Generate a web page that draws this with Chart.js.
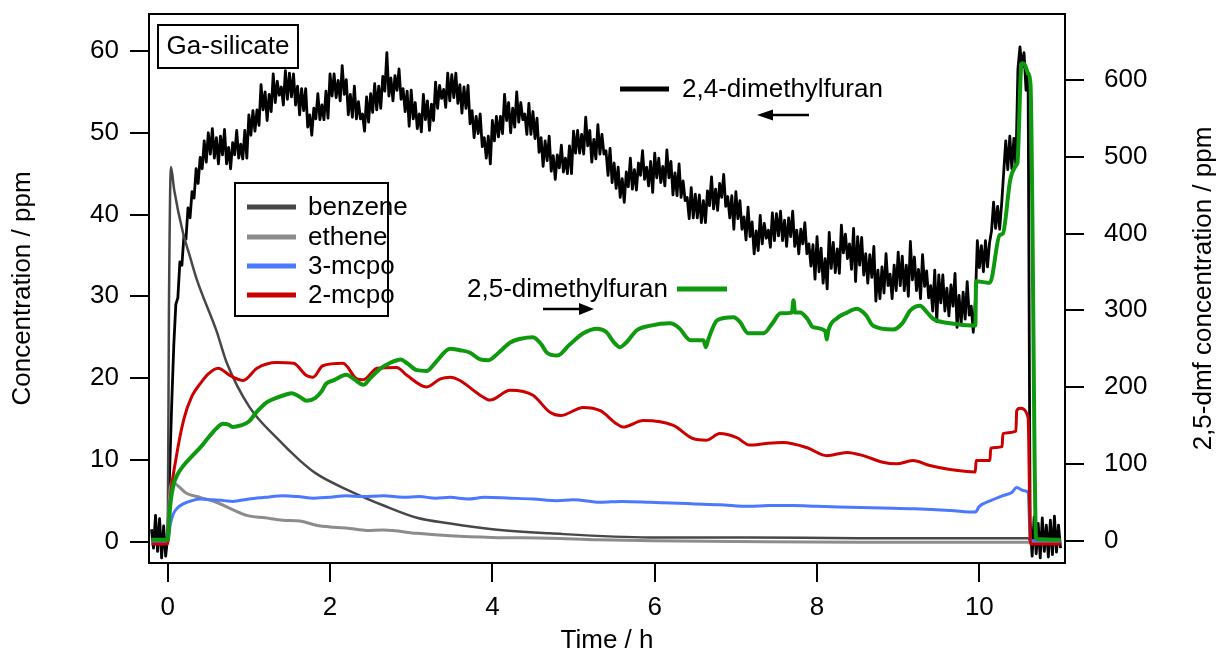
<!DOCTYPE html>
<html><head><meta charset="utf-8">
<script src="https://cdn.jsdelivr.net/npm/chart.js@4"></script>
<style>html,body{margin:0;padding:0;background:#fff}#wrap{width:1221px;height:656px}</style>
</head><body><div id="wrap"><canvas id="c" width="1221" height="656"></canvas></div>
<script>
// ---- tick labels ----
const xTickLabels = [0, 2, 4, 6, 8, 10];
const leftTickLabels = [0, 10, 20, 30, 40, 50, 60];
const rightTickLabels = [0, 100, 200, 300, 400, 500, 600];
const seriesNames = ['2,4-dimethylfuran', '2,5-dimethylfuran', 'benzene', 'ethene', '3-mcpo', '2-mcpo'];

// ---- 2,4-dimethylfuran (left axis, ppm), time in h ----
const t24 = [
-0.2,-0.175,-0.15,-0.125,-0.1,-0.075,-0.05,-0.025,
0,0.025,0.05,0.075,0.1,0.125,0.15,0.175,0.2,0.225,0.25,0.275,0.3,0.325,0.35,0.375,0.4,0.425,0.45,0.475,
0.5,0.525,0.55,0.575,0.6,0.625,0.65,0.675,0.7,0.725,0.75,0.775,0.8,0.825,0.85,0.875,0.9,0.925,0.95,0.975,
1,1.025,1.05,1.075,1.1,1.125,1.15,1.175,1.2,1.225,1.25,1.275,1.3,1.325,1.35,1.375,1.4,1.425,1.45,1.475,
1.5,1.525,1.55,1.575,1.6,1.625,1.65,1.675,1.7,1.725,1.75,1.775,1.8,1.825,1.85,1.875,1.9,1.925,1.95,1.975,
2,2.025,2.05,2.075,2.1,2.125,2.15,2.175,2.2,2.225,2.25,2.275,2.3,2.325,2.35,2.375,2.4,2.425,2.45,2.475,
2.5,2.525,2.55,2.575,2.6,2.625,2.65,2.675,2.7,2.725,2.75,2.775,2.8,2.825,2.85,2.875,2.9,2.925,2.95,2.975,
3,3.025,3.05,3.075,3.1,3.125,3.15,3.175,3.2,3.225,3.25,3.275,3.3,3.325,3.35,3.375,3.4,3.425,3.45,3.475,
3.5,3.525,3.55,3.575,3.6,3.625,3.65,3.675,3.7,3.725,3.75,3.775,3.8,3.825,3.85,3.875,3.9,3.925,3.95,3.975,
4,4.025,4.05,4.075,4.1,4.125,4.15,4.175,4.2,4.225,4.25,4.275,4.3,4.325,4.35,4.375,4.4,4.425,4.45,4.475,
4.5,4.525,4.55,4.575,4.6,4.625,4.65,4.675,4.7,4.725,4.75,4.775,4.8,4.825,4.85,4.875,4.9,4.925,4.95,4.975,
5,5.025,5.05,5.075,5.1,5.125,5.15,5.175,5.2,5.225,5.25,5.275,5.3,5.325,5.35,5.375,5.4,5.425,5.45,5.475,
5.5,5.525,5.55,5.575,5.6,5.625,5.65,5.675,5.7,5.725,5.75,5.775,5.8,5.825,5.85,5.875,5.9,5.925,5.95,5.975,
6,6.025,6.05,6.075,6.1,6.125,6.15,6.175,6.2,6.225,6.25,6.275,6.3,6.325,6.35,6.375,6.4,6.425,6.45,6.475,
6.5,6.525,6.55,6.575,6.6,6.625,6.65,6.675,6.7,6.725,6.75,6.775,6.8,6.825,6.85,6.875,6.9,6.925,6.95,6.975,
7,7.025,7.05,7.075,7.1,7.125,7.15,7.175,7.2,7.225,7.25,7.275,7.3,7.325,7.35,7.375,7.4,7.425,7.45,7.475,
7.5,7.525,7.55,7.575,7.6,7.625,7.65,7.675,7.7,7.725,7.75,7.775,7.8,7.825,7.85,7.875,7.9,7.925,7.95,7.975,
8,8.025,8.05,8.075,8.1,8.125,8.15,8.175,8.2,8.225,8.25,8.275,8.3,8.325,8.35,8.375,8.4,8.425,8.45,8.475,
8.5,8.525,8.55,8.575,8.6,8.625,8.65,8.675,8.7,8.725,8.75,8.775,8.8,8.825,8.85,8.875,8.9,8.925,8.95,8.975,
9,9.025,9.05,9.075,9.1,9.125,9.15,9.175,9.2,9.225,9.25,9.275,9.3,9.325,9.35,9.375,9.4,9.425,9.45,9.475,
9.5,9.525,9.55,9.575,9.6,9.625,9.65,9.675,9.7,9.725,9.75,9.775,9.8,9.825,9.85,9.875,9.9,9.925,9.95,9.975,
10,10.025,10.05,10.075,10.1,10.125,10.15,10.175,10.2,10.225,10.25,10.275,10.3,10.325,10.35,10.375,10.4,10.425,10.45,10.475,
10.5,10.525,10.55,10.575,10.6,10.625,10.65,10.675,10.7,10.725,10.75,10.775,10.8,10.825,10.85,10.875,10.9,10.925,10.95,10.975,11];
const v24 = [
1.5,-0.8,3.2,-1.2,2.8,-2.0,1.9,-1.8,
0.6,9,17,24,29.0,29.8,34.2,33.8,37.4,37.0,40.8,39.6,42.8,42.0,45.6,43.8,47.0,45.6,49.0,46.4,
50.0,47.4,50.5,46.9,49.4,46.2,49.6,47.3,50.4,46.2,48.2,45.6,48.8,47.3,50.3,46.9,48.6,46.8,50.3,46.9,
52.2,49.7,52.7,50.2,52.8,50.9,55.9,52.8,55.0,51.5,54.7,52.6,57.2,53.7,56.3,54.6,55.6,53.4,57.6,54.1,
57.3,54.4,57.2,53.4,55.7,52.2,55.4,52.7,55.4,50.7,52.2,49.7,53.0,51.7,54.8,51.6,53.4,51.6,55.1,51.8,
57.2,54.5,57.2,54.3,56.4,53.9,58.2,54.7,56.5,52.2,54.7,51.9,55.7,51.7,53.8,51.7,52.3,50.2,54.4,51.3,
54.8,52.5,56.0,52.8,55.7,53.0,56.9,55.1,59.8,54.5,56.7,53.9,57.0,55.2,57.8,54.1,55.4,52.6,55.1,50.8,
55.2,51.7,53.7,50.5,52.3,50.1,54.7,51.6,53.9,50.3,53.5,51.5,56.2,53.0,55.8,54.2,55.3,53.1,57.3,53.9,
57.1,54.3,57.3,53.6,55.9,52.4,55.6,53.0,55.8,51.1,52.7,49.4,52.0,49.9,52.3,48.3,49.4,46.9,49.6,46.2,
51.5,49.0,52.0,49.5,52.0,49.9,54.7,51.5,53.7,50.0,53.0,50.7,55.0,51.3,53.7,51.6,52.3,49.8,53.6,49.8,
52.6,49.3,51.8,47.6,49.4,45.9,49.0,46.6,49.6,45.3,47.2,44.3,47.3,45.7,48.5,45.2,46.9,45.0,48.4,45.0,
50.2,47.5,50.3,47.5,49.8,47.4,51.9,48.4,50.3,46.4,49.2,46.8,51.0,47.4,49.8,47.4,47.8,44.8,48.1,43.9,
46.3,43.2,45.8,42.1,44.4,41.5,45.2,43.4,46.9,43.1,45.5,43.0,46.3,44.8,47.8,44.3,45.8,43.5,46.5,42.7,
47.5,44.5,46.9,43.9,45.9,43.5,47.9,44.5,46.5,42.4,45.1,42.3,46.2,42.1,44.1,41.7,42.1,39.5,43.3,39.6,
42.5,39.6,42.4,39.0,41.7,39.0,42.9,41.1,44.6,40.7,43.1,40.5,43.8,42.1,44.9,41.0,42.2,39.6,42.3,38.2,
42.8,39.5,41.7,38.2,39.7,36.9,40.9,37.3,39.1,35.2,38.0,35.6,39.9,36.4,38.9,37.1,38.1,36.0,40.2,36.8,
40.1,37.4,40.4,36.8,39.3,36.1,39.6,37.3,40.4,36.1,38.1,35.2,38.2,36.4,39.0,35.2,36.4,33.7,36.3,32.1,
37.3,33.0,35.9,31.6,34.6,30.9,37.8,33.4,36.6,32.9,35.8,32.8,38.7,35.3,37.6,34.6,36.4,33.3,38.3,31.8,
37.3,33.8,37.2,32.6,35.2,31.6,35.1,32.3,36.1,29.4,33.2,29.7,33.6,30.4,35.2,31.3,32.7,29.7,33.8,30.7,
35.4,31.3,34.9,30.7,33.8,30.0,36.7,32.0,34.8,30.7,33.3,29.7,35.1,31.2,33.1,29.8,31.3,28.2,33.2,26.9,
32.6,29.2,32.6,28.2,31.0,27.6,31.4,28.8,32.8,26.2,30.1,26.6,30.5,27.2,31.8,27.7,28.8,25.6,29.4,36.8,
33.5,36.2,33.0,36.8,33.6,36.5,38.0,41.5,38.3,41.0,38.2,41.4,45.2,49.0,45.5,49.6,45.6,49.3,46.0,57.8,
60.5,58.0,59.8,55.2,57.0,2.5,-1.8,3.0,-1.5,2.2,-2.0,2.9,-1.2,2.0,-1.9,2.6,-1.6,3.1,-1.3,2.0,-0.8];

// ---- 2,5-dimethylfuran (right axis, ppm) ----
const t25 = [-0.2,0,0.03,0.07,0.12,0.19,0.3,0.4,0.5,0.6,0.68,0.75,0.8,0.9,1.0,1.1,1.22,1.34,1.45,1.53,1.63,1.71,1.82,1.9,1.95,2.05,2.2,2.3,2.41,2.5,2.62,2.75,2.87,2.95,3.07,3.19,3.3,3.48,3.6,3.72,3.85,3.95,4.08,4.22,4.35,4.5,4.6,4.67,4.8,4.95,5.12,5.29,5.4,5.5,5.57,5.65,5.78,5.95,6.19,6.3,6.44,6.6,6.63,6.66,6.77,6.97,7.05,7.15,7.34,7.45,7.55,7.69,7.71,7.73,7.79,7.88,7.95,8.1,8.12,8.14,8.25,8.37,8.49,8.6,8.69,8.94,9.05,9.15,9.27,9.35,9.43,9.64,9.95,9.96,10.1,10.13,10.25,10.29,10.38,10.46,10.47,10.52,10.56,10.6,10.63,10.7,11];
const v25 = [1,1,45,72,86,97,110,121,134,146,152,151,148,150,155,168,180,186,190,192,187,182,186,195,204,209,216,210,203,212,224,232,236,231,222,221,232,250,248,245,236,235,245,258,263,265,256,245,241,255,270,276,272,258,252,258,274,280,283,277,261,261,252,262,287,291,285,270,270,283,296,297,313,297,297,289,278,273,262,274,290,297,302,294,280,275,283,300,306,298,289,283,280,338,336,336,398,400,470,490,493,622,620,609,594,2,1,1];

// ---- benzene (left axis) ----
const tBz = [-0.2,0,0.015,0.04,0.08,0.19,0.27,0.36,0.6,0.73,1.01,1.34,1.63,1.83,2.24,2.66,3.07,3.48,4.0,4.71,5.94,7.17,8.5,10.6,10.63,11];
const vBz = [0.2,0.2,28,45.8,43,37.7,35,32,25.8,21.8,16.4,12.7,9.9,8.3,6.2,4.4,2.9,2.2,1.5,1.0,0.5,0.5,0.4,0.4,0.1,0.1];

// ---- ethene (left axis) ----
const tEt = [-0.2,0,0.02,0.05,0.09,0.23,0.4,0.6,0.8,0.97,1.2,1.42,1.63,1.83,2.04,2.24,2.45,2.66,3.07,3.48,4.0,4.71,5.3,5.94,7.0,8.5,10.6,11];
const vEt = [0,0,5,7.2,7.1,5.9,5.4,4.8,3.9,3.2,2.9,2.6,2.5,2.0,1.75,1.6,1.35,1.4,1.0,0.7,0.5,0.4,0.2,0.1,0,-0.1,-0.1,-0.1];

// ---- 3-mcpo (left axis) ----
const tMc3 = [-0.2,-0.1,0,0.03,0.07,0.12,0.19,0.3,0.4,0.55,0.7,0.8,1.0,1.2,1.42,1.6,1.8,2.0,2.2,2.4,2.66,2.9,3.1,3.3,3.48,3.7,3.9,4.22,4.5,4.8,5.0,5.33,5.6,5.94,6.2,6.5,6.8,7.17,7.4,7.7,8.0,8.4,8.8,9.2,9.64,9.95,10.0,10.14,10.29,10.4,10.46,10.55,10.6,10.63,11];
const vMc3 = [0.1,-0.1,0,2,3.4,4.1,4.6,5.0,5.2,5.1,5.0,4.9,5.2,5.4,5.6,5.5,5.3,5.4,5.6,5.5,5.6,5.4,5.5,5.3,5.4,5.2,5.4,5.3,5.2,5.0,5.1,4.8,4.9,4.8,4.7,4.6,4.5,4.3,4.4,4.4,4.3,4.2,4.1,4.0,3.8,3.6,4.3,5.0,5.6,6.0,6.6,6.2,6.0,0.1,0.1];

// ---- 2-mcpo (left axis) ----
const tMc2 = [-0.2,0,0.03,0.1,0.2,0.3,0.4,0.5,0.62,0.77,0.93,1.1,1.34,1.55,1.71,1.79,1.91,2.16,2.33,2.41,2.58,2.82,2.95,3.19,3.36,3.48,3.6,3.85,3.97,4.22,4.5,4.71,4.84,5.12,5.33,5.53,5.61,5.86,6.23,6.47,6.64,6.8,7.01,7.17,7.38,7.58,7.87,8.12,8.37,8.57,8.81,8.98,9.18,9.39,9.64,9.95,9.96,10.13,10.14,10.28,10.29,10.45,10.46,10.5,10.6,10.63,11];
const vMc2 = [-0.3,-0.3,5,10,15,17.8,19.3,20.5,21.2,20.3,19.7,21.2,21.9,21.8,20.3,20.1,21.5,21.8,19.9,19.8,21.2,21.3,20.3,18.9,19.9,20.1,19.7,17.9,17.3,18.5,17.9,15.8,15.4,16.4,16.0,14.4,14.0,14.8,14.2,12.6,12.4,13.2,12.7,11.8,12.0,12.1,11.5,10.5,10.9,10.5,9.7,9.5,9.9,9.3,8.8,8.5,9.9,9.9,11.4,11.6,13.2,13.5,16.0,16.3,15.2,-0.3,-0.3];

const pts = (t, v) => t.map((x, i) => ({x: x, y: v[i]}));
const FONT = "'Liberation Sans', Arial, sans-serif";

const framePlugin = {
  id: 'frameAndNotes',
  afterDraw(chart) {
    const ctx = chart.ctx, a = chart.chartArea;
    ctx.save();
    ctx.strokeStyle = '#000'; ctx.lineWidth = 2;
    ctx.strokeRect(a.left, a.top, a.right - a.left, a.bottom - a.top);
    ctx.fillStyle = '#000';
    ctx.font = '26px ' + FONT;
    ctx.save();
    ctx.translate(1204, (a.top + a.bottom) / 2);
    ctx.rotate(-Math.PI / 2);
    ctx.textAlign = 'center'; ctx.textBaseline = 'middle';
    ctx.fillText('2,5-dmf concentration / ppm', 0, 0);
    ctx.restore();
    // sample label box
    ctx.lineWidth = 2;
    ctx.fillStyle = '#fff';
    ctx.fillRect(158, 25, 140, 43);
    ctx.strokeRect(158, 25, 140, 43);
    ctx.fillStyle = '#000';
    ctx.textAlign = 'center'; ctx.textBaseline = 'middle';
    ctx.fillText('Ga-silicate', 228, 47);
    // legend
    ctx.fillStyle = '#fff';
    ctx.fillRect(235, 183, 153, 133);
    ctx.strokeRect(235, 183, 153, 133);
    const legendSets = [2, 3, 4, 5];
    const rows = [207, 237, 266, 295];
    legendSets.forEach((di, k) => {
      const ds = chart.data.datasets[di];
      ctx.strokeStyle = ds.borderColor; ctx.lineWidth = 5; ctx.lineCap = 'butt';
      ctx.beginPath(); ctx.moveTo(247, rows[k]); ctx.lineTo(296, rows[k]); ctx.stroke();
      ctx.fillStyle = '#000'; ctx.textAlign = 'left'; ctx.textBaseline = 'middle';
      ctx.fillText(ds.label, 308, rows[k] + 1);
    });
    // 2,4-dimethylfuran note
    const d0 = chart.data.datasets[0], d1 = chart.data.datasets[1];
    ctx.strokeStyle = d0.borderColor; ctx.lineWidth = 5;
    ctx.beginPath(); ctx.moveTo(620, 89); ctx.lineTo(669, 89); ctx.stroke();
    ctx.fillStyle = '#000'; ctx.textAlign = 'left';
    ctx.fillText(d0.label, 682, 90);
    ctx.lineWidth = 2.5; ctx.strokeStyle = '#000';
    ctx.beginPath(); ctx.moveTo(809, 115); ctx.lineTo(770, 115); ctx.stroke();
    ctx.beginPath(); ctx.moveTo(757, 115); ctx.lineTo(773, 109.5); ctx.lineTo(773, 120.5); ctx.closePath(); ctx.fill();
    // 2,5-dimethylfuran note
    ctx.fillText(d1.label, 467, 290);
    ctx.strokeStyle = d1.borderColor; ctx.lineWidth = 5;
    ctx.beginPath(); ctx.moveTo(677, 289); ctx.lineTo(727, 289); ctx.stroke();
    ctx.strokeStyle = '#000'; ctx.lineWidth = 2.5;
    ctx.beginPath(); ctx.moveTo(543, 309); ctx.lineTo(582, 309); ctx.stroke();
    ctx.beginPath(); ctx.moveTo(594, 309); ctx.lineTo(579, 303); ctx.lineTo(579, 315); ctx.closePath(); ctx.fill();
    ctx.restore();
  }
};

const tickGrid = {display: true, drawOnChartArea: false, drawTicks: true, tickLength: 19, lineWidth: 2, tickWidth: 2, tickColor: '#000', color: '#000'};

new Chart(document.getElementById('c'), {
  type: 'line',
  data: {
    datasets: [
      {label: seriesNames[0], data: pts(t24, v24), yAxisID: 'yL', borderColor: '#000000', borderWidth: 2.8, tension: 0, order: 5},
      {label: seriesNames[1], data: pts(t25, v25), yAxisID: 'yR', borderColor: '#0f990f', borderWidth: 4, cubicInterpolationMode: 'monotone', order: 0},
      {label: seriesNames[2], data: pts(tBz, vBz), yAxisID: 'yL', borderColor: '#474747', borderWidth: 2.5, cubicInterpolationMode: 'monotone', order: 4},
      {label: seriesNames[3], data: pts(tEt, vEt), yAxisID: 'yL', borderColor: '#8c8c8c', borderWidth: 3, cubicInterpolationMode: 'monotone', order: 3},
      {label: seriesNames[4], data: pts(tMc3, vMc3), yAxisID: 'yL', borderColor: '#4a78ff', borderWidth: 3, cubicInterpolationMode: 'monotone', order: 2},
      {label: seriesNames[5], data: pts(tMc2, vMc2), yAxisID: 'yL', borderColor: '#cc0000', borderWidth: 3, cubicInterpolationMode: 'monotone', order: 1}
    ]
  },
  options: {
    responsive: false,
    devicePixelRatio: 1,
    animation: false,
    parsing: false,
    elements: {point: {radius: 0}, line: {borderCapStyle: 'butt', borderJoinStyle: 'round'}},
    layout: {padding: {top: 14, left: 0, right: 0, bottom: 0}},
    plugins: {legend: {display: false}, tooltip: {enabled: false}, title: {display: false}},
    scales: {
      x: {
        type: 'linear', position: 'bottom', min: -0.2304, max: 11.055,
        afterBuildTicks: s => { s.ticks = xTickLabels.map(v => ({value: v})); },
        afterFit: s => { s.height = 93; s.paddingLeft = 0; s.paddingRight = 0; },
        grid: tickGrid, border: {display: false},
        ticks: {color: '#000', font: {family: FONT, size: 26}, padding: 10, maxRotation: 0, autoSkip: false},
        title: {display: true, text: 'Time / h', color: '#000', font: {family: FONT, size: 26}, padding: {top: 0, bottom: 0}}
      },
      yL: {
        type: 'linear', position: 'left', min: -2.63, max: 64.53,
        afterBuildTicks: s => { s.ticks = leftTickLabels.map(v => ({value: v})); },
        afterFit: s => { s.width = 149; s.paddingTop = 0; s.paddingBottom = 0; },
        grid: tickGrid, border: {display: false},
        ticks: {color: '#000', font: {family: FONT, size: 26}, padding: 11, autoSkip: false},
        title: {display: true, text: 'Concentration / ppm', color: '#000', font: {family: FONT, size: 26}, padding: {top: 7, bottom: 0}}
      },
      yR: {
        type: 'linear', position: 'right', min: -29.3, max: 686.1,
        afterBuildTicks: s => { s.ticks = rightTickLabels.map(v => ({value: v})); },
        afterFit: s => { s.width = 156; s.paddingTop = 0; s.paddingBottom = 0; },
        grid: tickGrid, border: {display: false},
        ticks: {color: '#000', font: {family: FONT, size: 26}, padding: 20, autoSkip: false}
      }
    }
  },
  plugins: [framePlugin]
});
</script>
</body></html>
